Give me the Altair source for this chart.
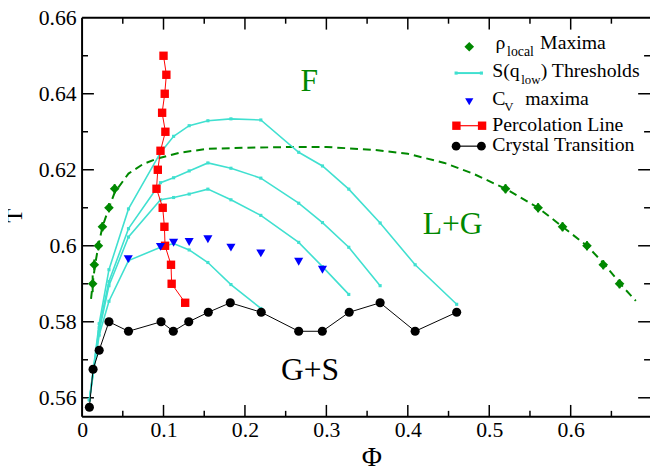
import altair as alt
import pandas as pd

SERIF = "Liberation Serif"
GREEN = "#008800"
CYAN = "#40E0D0"

# ---------------- data ----------------
# rho_local maxima (green diamonds) with small error bars
rho_phi = [0.013, 0.015, 0.020, 0.025, 0.033, 0.040, 0.520, 0.560, 0.590, 0.620, 0.640, 0.660]
rho_T = [0.5900, 0.5950, 0.6000, 0.6050, 0.6100, 0.6150, 0.6150, 0.6100, 0.6050, 0.6000, 0.5950, 0.5900]
rho_err = [0.0022, 0.0014, 0.0012, 0.0012, 0.0012, 0.0012, 0.0012, 0.0012, 0.0012, 0.0012, 0.0012, 0.0012]

# dashed green fit through the rho_local maxima
fit_phi = [0.011, 0.013, 0.016, 0.020, 0.025, 0.033, 0.040, 0.057, 0.075, 0.093, 0.120, 0.154,
           0.200, 0.260, 0.300, 0.360, 0.400, 0.445, 0.480, 0.520, 0.560, 0.590, 0.620, 0.640,
           0.665, 0.680]
fit_T = [0.5860, 0.5900, 0.5950, 0.6000, 0.6050, 0.6100, 0.6140, 0.6190, 0.6215, 0.6230, 0.6245, 0.6255,
         0.6258, 0.6260, 0.6260, 0.6252, 0.6242, 0.6218, 0.6190, 0.6150, 0.6100, 0.6050, 0.6000, 0.5955,
         0.5890, 0.5855]

# S(q_low) thresholds (four cyan curves)
s_phi = [0.009, 0.021, 0.033, 0.057, 0.0963, 0.1124, 0.1315, 0.1545, 0.1828, 0.2195, 0.266, 0.2952,
         0.3275, 0.366, 0.409, 0.460]
s1_T = [0.5595, 0.5795, 0.5937, 0.6097, 0.6245, 0.6288, 0.6316, 0.6329, 0.6334, 0.6331, 0.6246, 0.6210,
        0.6149, 0.6060, 0.5950, 0.5846]
s2_T = [0.5595, 0.5785, 0.5906, 0.6045, 0.6166, 0.6179, 0.6197, 0.6218, 0.6204, 0.6178, 0.6112, 0.6061,
        0.5996, 0.5895]
s3_T = [0.5595, 0.5775, 0.5895, 0.6023, 0.6121, 0.6127, 0.6136, 0.6149, 0.6121, 0.6080, 0.6009, 0.5945,
        0.5872]
s4_T = [0.5595, 0.5765, 0.5854, 0.5961, 0.5996, 0.6006, 0.5989, 0.5956, 0.5898, 0.5835]

# C_V maxima (blue triangles)
cv_phi = [0.0567, 0.0963, 0.1124, 0.1315, 0.1545, 0.1828, 0.2195, 0.266, 0.2952]
cv_T = [0.5965, 0.5997, 0.6008, 0.6010, 0.6017, 0.5995, 0.5980, 0.5958, 0.5937]

# percolation line (red squares)
perc_phi = [0.1000, 0.1035, 0.1015, 0.0983, 0.1023, 0.0963, 0.0930, 0.0914, 0.0990, 0.1011, 0.1019,
            0.1092, 0.1100, 0.1266]
perc_T = [0.650, 0.645, 0.640, 0.635, 0.630, 0.625, 0.620, 0.615, 0.610, 0.605, 0.600, 0.595, 0.590, 0.585]

# crystal transition (black circles)
cry_phi = [0.009, 0.0135, 0.021, 0.033, 0.057, 0.097, 0.112, 0.131, 0.155, 0.182, 0.220, 0.266, 0.295,
           0.328, 0.366, 0.409, 0.460]
cry_T = [0.5575, 0.5675, 0.5725, 0.5800, 0.5775, 0.5800, 0.5775, 0.5800, 0.5825, 0.5850, 0.5825, 0.5775,
         0.5775, 0.5825, 0.5850, 0.5775, 0.5825]

# region labels
green_labels = ["F", "L+G"]
green_lab_phi = [0.279, 0.455]
green_lab_T = [0.6433, 0.6058]
black_labels = ["G+S"]
black_lab_phi = [0.280]
black_lab_T = [0.5672]

# axis ticks
x_labels = [0, 0.1, 0.2, 0.3, 0.4, 0.5, 0.6]
x_major = [0.1, 0.2, 0.3, 0.4, 0.5, 0.6]
x_minor = [0.05, 0.15, 0.25, 0.35, 0.45, 0.55, 0.65]
y_labels = [0.56, 0.58, 0.6, 0.62, 0.64, 0.66]
y_major = [0.56, 0.58, 0.60, 0.62, 0.64]
y_minor = [0.57, 0.59, 0.61, 0.63, 0.65]

# ---------------- layout ----------------
W, H = 575, 404
XMAX = 0.6974

xscale = alt.Scale(domain=[0, XMAX], nice=False, zero=False)
yscale = alt.Scale(domain=[0.555, 0.66], nice=False, zero=False)

xaxis = alt.Axis(values=x_labels, format="~g", ticks=False, tickSize=0, domain=False, grid=False,
                 labelFont=SERIF, labelFontSize=22, labelColor="black", labelPadding=3,
                 labelFlush=False, labelOverlap=False,
                 title="Φ", titleFont=SERIF, titleFontSize=28, titleFontWeight="normal",
                 titleColor="black", titleX=293, titleY=41, titleBaseline="middle", titleAlign="center")
yaxis = alt.Axis(values=y_labels, format="~g", ticks=False, tickSize=0, domain=False, grid=False,
                 labelFont=SERIF, labelFontSize=22, labelColor="black", labelPadding=6,
                 labelOverlap=False,
                 title="T", titleFont=SERIF, titleFontSize=23, titleFontWeight="normal",
                 titleColor="black", titleX=-61, titleY=200, titleBaseline="alphabetic",
                 titleAlign="center", titleAngle=-90)


def X(f):
    return alt.X(f, type="quantitative", scale=xscale, axis=xaxis, title="Φ")


def Y(f):
    return alt.Y(f, type="quantitative", scale=yscale, axis=yaxis, title="T")


one = pd.DataFrame({"_": [0]})

# data frames
rho_df = pd.DataFrame({"phi": rho_phi, "T": rho_T, "err": rho_err})
rho_df["lo"] = rho_df["T"] - rho_df["err"]
rho_df["hi"] = rho_df["T"] + rho_df["err"]
fit_df = pd.DataFrame({"phi": fit_phi, "T": fit_T})
rows = []
for k, ts in enumerate([s1_T, s2_T, s3_T, s4_T]):
    for p, t in zip(s_phi, ts):
        rows.append({"phi": p, "T": t, "curve": k})
s_df = pd.DataFrame(rows)
cv_df = pd.DataFrame({"phi": cv_phi, "T": cv_T})
perc_df = pd.DataFrame({"phi": perc_phi, "T": perc_T, "i": list(range(len(perc_T)))})
cry_df = pd.DataFrame({"phi": cry_phi, "T": cry_T, "i": list(range(len(cry_T)))})
glab_df = pd.DataFrame({"phi": green_lab_phi, "T": green_lab_T, "lab": green_labels})
blab_df = pd.DataFrame({"phi": black_lab_phi, "T": black_lab_T, "lab": black_labels})

layers = []

# frame (left, top, bottom) and inward ticks
layers.append(alt.Chart(one).mark_rule(color="black", strokeWidth=2).encode(
    x=alt.value(0), y=alt.value(0), y2=alt.value(H)))
layers.append(alt.Chart(one).mark_rule(color="black", strokeWidth=2).encode(
    x=alt.value(0), x2=alt.value(W), y=alt.value(0)))
layers.append(alt.Chart(one).mark_rule(color="black", strokeWidth=2).encode(
    x=alt.value(0), x2=alt.value(W), y=alt.value(H)))

xmaj = pd.DataFrame({"v": x_major})
xmin = pd.DataFrame({"v": x_minor})
ymaj = pd.DataFrame({"v": y_major})
ymin = pd.DataFrame({"v": y_minor})
for dfv, L in [(xmaj, 12), (xmin, 6)]:
    layers.append(alt.Chart(dfv).mark_rule(color="black", strokeWidth=1.5).encode(
        x=X("v"), y=alt.value(H), y2=alt.value(H - L)))
    layers.append(alt.Chart(dfv).mark_rule(color="black", strokeWidth=1.5).encode(
        x=X("v"), y=alt.value(0), y2=alt.value(L)))
for dfv, L in [(ymaj, 12), (ymin, 6)]:
    layers.append(alt.Chart(dfv).mark_rule(color="black", strokeWidth=1.5).encode(
        y=Y("v"), x=alt.value(0), x2=alt.value(L)))
    layers.append(alt.Chart(dfv).mark_rule(color="black", strokeWidth=1.5).encode(
        y=Y("v"), x=alt.value(W), x2=alt.value(W - L)))

# dashed green fit
layers.append(alt.Chart(fit_df).mark_line(color=GREEN, strokeWidth=2, strokeDash=[8, 5]).encode(
    x=X("phi"), y=Y("T")))

# cyan S(q_low) curves
layers.append(alt.Chart(s_df).mark_line(
    color=CYAN, strokeWidth=1.6,
    point=alt.OverlayMarkDef(shape="square", size=10, filled=True, color=CYAN)).encode(
    x=X("phi"), y=Y("T"), detail="curve:N"))

# crystal transition
layers.append(alt.Chart(cry_df).mark_line(color="black", strokeWidth=1).encode(
    x=X("phi"), y=Y("T"), order="i:Q"))
layers.append(alt.Chart(cry_df).mark_point(shape="circle", filled=True, size=85, color="black",
                                           opacity=1).encode(x=X("phi"), y=Y("T")))

# percolation line
layers.append(alt.Chart(perc_df).mark_line(color="red", strokeWidth=1).encode(
    x=X("phi"), y=Y("T"), order="i:Q"))
layers.append(alt.Chart(perc_df).mark_point(shape="square", filled=True, size=72, color="red",
                                            opacity=1).encode(x=X("phi"), y=Y("T")))

# C_V maxima
layers.append(alt.Chart(cv_df).mark_point(shape="triangle-down", filled=True, size=85, color="blue",
                                          opacity=1).encode(x=X("phi"), y=Y("T")))

# rho_local maxima with error bars
layers.append(alt.Chart(rho_df).mark_rule(color=GREEN, strokeWidth=2).encode(
    x=X("phi"), y=Y("lo"), y2="hi"))
layers.append(alt.Chart(rho_df).mark_point(shape="diamond", filled=True, size=95, color=GREEN,
                                           opacity=1).encode(x=X("phi"), y=Y("T")))

# region labels
layers.append(alt.Chart(glab_df).mark_text(font=SERIF, fontSize=32, color=GREEN, align="center",
                                           baseline="middle").encode(x=X("phi"), y=Y("T"), text="lab"))
layers.append(alt.Chart(blab_df).mark_text(font=SERIF, fontSize=32, color="black", align="center",
                                           baseline="middle").encode(x=X("phi"), y=Y("T"), text="lab"))


# ---------------- legend (drawn by hand) ----------------
def txt(x, y, s, size=20):
    return alt.Chart(one).mark_text(font=SERIF, fontSize=size, color="black", align="left",
                                    baseline="alphabetic").encode(
        x=alt.value(x), y=alt.value(y), text=alt.value(s))


def sym(x, y, shape, size, color):
    return alt.Chart(one).mark_point(shape=shape, size=size, filled=True, color=color, opacity=1).encode(
        x=alt.value(x), y=alt.value(y))


def seg(x1, x2, y, color, w):
    return alt.Chart(one).mark_rule(color=color, strokeWidth=w).encode(
        x=alt.value(x1), x2=alt.value(x2), y=alt.value(y))


layers += [
    sym(392, 29.3, "diamond", 95, GREEN),
    txt(418.7, 31.7, "ρ"), txt(430.3, 39, "local", 14), txt(463.7, 31.7, "Maxima"),
    seg(378.7, 404.3, 56, CYAN, 2), sym(378.7, 56, "square", 10, CYAN), sym(404.3, 56, "square", 10, CYAN),
    txt(415.3, 60, "S(q"), txt(444.7, 66.7, "low", 13), txt(464.3, 60, ") Thresholds"),
    sym(392, 85, "triangle-down", 70, "blue"),
    txt(415.3, 88.3, "C"), txt(427.5, 94.3, "V", 13), txt(448.7, 88.3, "maxima"),
    seg(377, 407, 109.3, "red", 1.2), sym(379, 109.3, "square", 72, "red"), sym(405, 109.3, "square", 72, "red"),
    txt(415.3, 115, "Percolation Line"),
    seg(378.7, 404.3, 130, "black", 1.2), sym(378.7, 130, "circle", 80, "black"),
    sym(404.3, 130, "circle", 80, "black"),
    txt(415.3, 135, "Crystal Transition"),
]

chart = alt.layer(*layers).properties(
    width=W, height=H,
    autosize=alt.AutoSizeParams(type="none"),
    padding={"left": 75, "top": 7, "right": 0, "bottom": 51},
    background="white",
).configure_view(stroke=None)

chart.save("out.html", embed_options={"renderer": "svg", "actions": False})
